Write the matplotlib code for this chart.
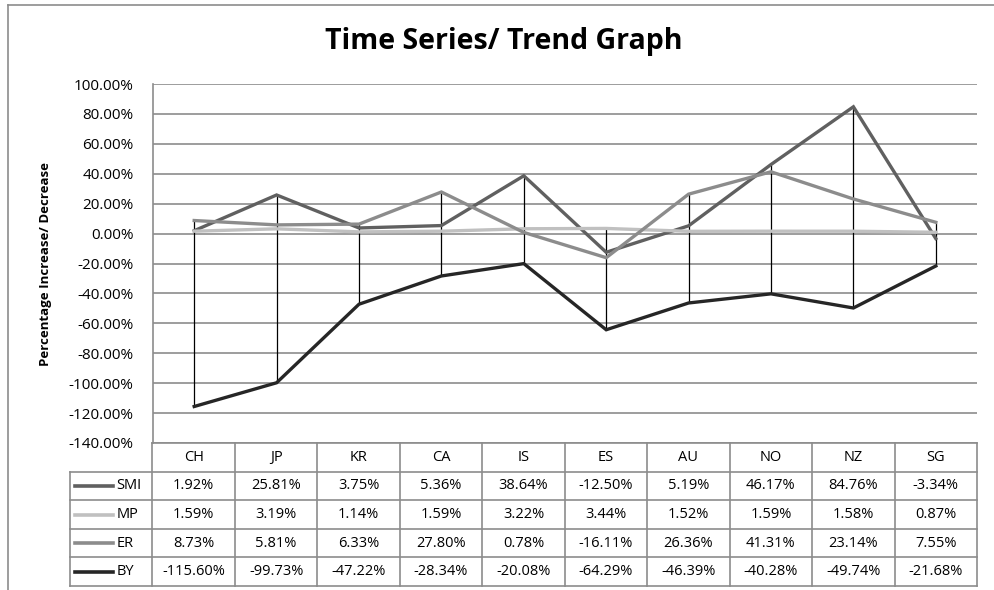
import matplotlib
matplotlib.use('Agg')
import matplotlib.pyplot as plt
from matplotlib.lines import Line2D

plt.rcParams['font.family'] = ['Open Sans', 'DejaVu Sans']

# data (percent change)
countries = ['CH', 'JP', 'KR', 'CA', 'IS', 'ES', 'AU', 'NO', 'NZ', 'SG']
series_names = ['SMI', 'MP', 'ER', 'BY']
smi = [1.92, 25.81, 3.75, 5.36, 38.64, -12.50, 5.19, 46.17, 84.76, -3.34]
mp = [1.59, 3.19, 1.14, 1.59, 3.22, 3.44, 1.52, 1.59, 1.58, 0.87]
er = [8.73, 5.81, 6.33, 27.80, 0.78, -16.11, 26.36, 41.31, 23.14, 7.55]
by = [-115.60, -99.73, -47.22, -28.34, -20.08, -64.29, -46.39, -40.28, -49.74, -21.68]
y_ticks = list(range(-140, 101, 20))

all_series = [smi, mp, er, by]
colors = ['#606060', '#c0c0c0', '#8c8c8c', '#262626']
grid_c = '#8c8c8c'

W, H = 995, 590
fig = plt.figure(figsize=(W / 100, H / 100), dpi=100, facecolor='white')

# chart area frame
fig.add_artist(Line2D([8 / W, 8 / W], [0, 1 - 5 / H], color=grid_c, lw=1.2))
fig.add_artist(Line2D([8 / W, 1], [1 - 5 / H, 1 - 5 / H], color=grid_c, lw=1.2))

x0, x1 = 153 / W, 977 / W
y_top, y_mid, y_bot = 1 - 84 / H, 1 - 443 / H, 1 - 586 / H
ax = fig.add_axes([x0, y_mid, x1 - x0, y_top - y_mid])

xs = list(range(len(countries)))
hi = [max(v) for v in zip(*all_series)]
lo = [min(v) for v in zip(*all_series)]
ax.vlines(xs, lo, hi, color='black', lw=0.9, zorder=2)
for vals, c in zip(all_series, colors):
    ax.plot(xs, vals, color=c, lw=2.4, zorder=3, solid_joinstyle='miter')

ax.set_xlim(-0.5, len(countries) - 0.5)
ax.set_ylim(-140, 100)
ax.set_yticks(y_ticks)
ax.set_yticklabels([f'{v:.2f}%' for v in y_ticks], fontsize=11)
ax.tick_params(axis='y', length=0, pad=14)
ax.set_xticks([])
ax.grid(axis='y', color=grid_c, lw=1.2)
ax.set_axisbelow(True)
for s in ['top', 'right', 'bottom']:
    ax.spines[s].set_visible(False)
ax.spines['left'].set_color(grid_c)
ax.spines['left'].set_linewidth(1.2)
ax.set_ylabel('Percentage Increase/ Decrease', fontsize=9.5, fontweight='bold')
ax.yaxis.set_label_coords(-0.122, 0.5)

fig.text(504 / W, 1 - 42 / H, 'Time Series/ Trend Graph', ha='center', va='center',
         fontsize=20.5, fontweight='bold')

# data table
tx0 = 70 / W
tax = fig.add_axes([tx0, y_bot, x1 - tx0, y_mid - y_bot])
tax.set_xlim(-1.5, len(countries) - 0.5)
tax.set_ylim(0, 5)
tax.axis('off')
n = len(countries)
lk = dict(color=grid_c, lw=1.2, clip_on=False)
for r in range(0, 5):
    tax.plot([-1.5, n - 0.5], [r, r], **lk)
tax.plot([-0.5, n - 0.5], [5, 5], **lk)
tax.plot([-1.5, -1.5], [0, 4], **lk)
for k in range(n + 1):
    tax.plot([k - 0.5, k - 0.5], [0, 5], **lk)

for i, c in enumerate(countries):
    tax.text(i, 4.5, c, ha='center', va='center', fontsize=10.5)
for r, (name, vals, col) in enumerate(zip(series_names, all_series, colors)):
    yc = 3.5 - r
    tax.plot([-1.44, -0.98], [yc, yc], color=col, lw=2.6, clip_on=False)
    tax.text(-0.94, yc, name, ha='left', va='center', fontsize=10.5)
    for i, v in enumerate(vals):
        tax.text(i, yc, f'{v:.2f}%', ha='center', va='center', fontsize=10.5)

fig.savefig('out.png', dpi=100, facecolor='white')
